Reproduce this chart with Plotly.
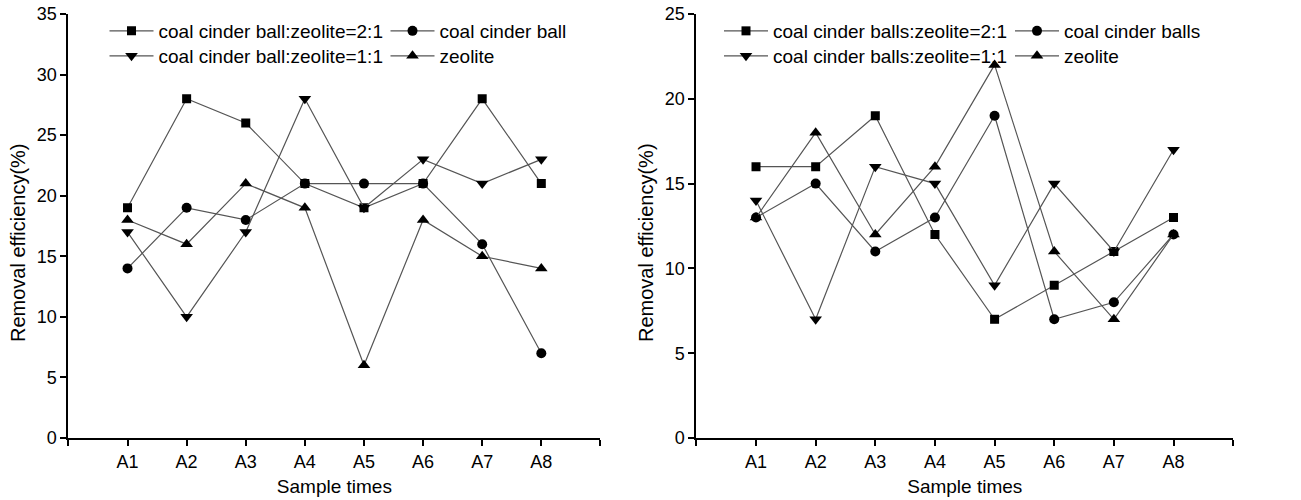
import plotly.graph_objects as go

# ---------------- data ----------------
categories = ["A1", "A2", "A3", "A4", "A5", "A6", "A7", "A8"]

left_names = ["coal cinder ball:zeolite=2:1", "coal cinder ball",
              "coal cinder ball:zeolite=1:1", "zeolite"]
left_ratio_2_1 = [19, 28, 26, 21, 19, 21, 28, 21]
left_cinder = [14, 19, 18, 21, 21, 21, 16, 7]
left_ratio_1_1 = [17, 10, 17, 28, 19, 23, 21, 23]
left_zeolite = [18, 16, 21, 19, 6, 18, 15, 14]

right_names = ["coal cinder balls:zeolite=2:1", "coal cinder balls",
               "coal cinder balls:zeolite=1:1", "zeolite"]
right_ratio_2_1 = [16, 16, 19, 12, 7, 9, 11, 13]
right_cinder = [13, 15, 11, 13, 19, 7, 8, 12]
right_ratio_1_1 = [14, 7, 16, 15, 9, 15, 11, 17]
right_zeolite = [13, 18, 12, 16, 22, 11, 7, 12]

left_yticks = [0, 5, 10, 15, 20, 25, 30, 35]
right_yticks = [0, 5, 10, 15, 20, 25]
x_title = "Sample times"
y_title = "Removal efficiency(%)"

# ---------------- styling ----------------
W, H = 1301, 500
FONT = "Liberation Sans, Arial, sans-serif"
LINE_COLOR = "#555555"
symbols = ["square", "circle", "triangle-down", "triangle-up"]
msizes = [9, 10, 11, 11]

xpos = list(range(len(categories)))
tickvals = [-1] + xpos + [len(categories)]
ticktext = [""] + categories + [""]

fig = go.Figure()

left_series = [left_ratio_2_1, left_cinder, left_ratio_1_1, left_zeolite]
right_series = [right_ratio_2_1, right_cinder, right_ratio_1_1, right_zeolite]
left_legends = ["legend", "legend", "legend2", "legend2"]
right_legends = ["legend3", "legend3", "legend4", "legend4"]

for i, (name, vals) in enumerate(zip(left_names, left_series)):
    fig.add_trace(go.Scatter(
        x=xpos, y=vals, name=name, mode="lines+markers",
        line=dict(color=LINE_COLOR, width=1.2),
        marker=dict(symbol=symbols[i], size=msizes[i], color="black"),
        xaxis="x", yaxis="y", legend=left_legends[i]))

for i, (name, vals) in enumerate(zip(right_names, right_series)):
    fig.add_trace(go.Scatter(
        x=xpos, y=vals, name=name, mode="lines+markers",
        line=dict(color=LINE_COLOR, width=1.2),
        marker=dict(symbol=symbols[i], size=msizes[i], color="black"),
        xaxis="x2", yaxis="y2", legend=right_legends[i]))

def xaxis_cfg(domain, anchor):
    return dict(
        domain=domain, range=[-1, len(categories)], tickmode="array",
        tickvals=tickvals, ticktext=ticktext, showgrid=False, zeroline=False,
        showline=True, linecolor="black", linewidth=2, ticks="outside",
        ticklen=6, tickwidth=2, tickcolor="black",
        tickfont=dict(family=FONT, size=18, color="black"),
        title=dict(text=x_title, font=dict(family=FONT, size=19, color="black"),
                   standoff=9),
        anchor=anchor, automargin=False, fixedrange=True)

def yaxis_cfg(domain, rng, ticks, anchor):
    return dict(
        domain=domain, range=rng, tickmode="array", tickvals=ticks,
        showgrid=False, zeroline=False, showline=True, linecolor="black",
        linewidth=2, ticks="outside", ticklen=6, tickwidth=2, tickcolor="black",
        tickfont=dict(family=FONT, size=18, color="black"),
        anchor=anchor, automargin=False, fixedrange=True)

ydom = [(H - 438) / H, (H - 14) / H]

fig.update_layout(
    width=W, height=H,
    margin=dict(l=0, r=0, t=0, b=0),
    paper_bgcolor="white", plot_bgcolor="white",
    font=dict(family=FONT, size=18, color="black"),
    xaxis=xaxis_cfg([72 / W, 632 / W], "y"),
    yaxis=yaxis_cfg(ydom, [0, 35], left_yticks, "x"),
    xaxis2=xaxis_cfg([733 / W, 1298 / W], "y2"),
    yaxis2=yaxis_cfg(ydom, [0, 25], right_yticks, "x2"),
)

# y-axis titles (rotated), placed beside each axis
for xc in (19, 680):
    fig.add_annotation(
        text=y_title, textangle=-90, showarrow=False,
        xref="paper", yref="paper", x=xc / W, y=(H - 243) / H,
        xanchor="center", yanchor="middle",
        font=dict(family=FONT, size=20, color="black"))

leg_common = dict(orientation="h", xanchor="left", yanchor="top",
                  bgcolor="rgba(0,0,0,0)", borderwidth=0, itemwidth=44,
                  font=dict(family=FONT, size=19, color="black"),
                  tracegroupgap=0, itemclick=False, itemdoubleclick=False)

fig.update_layout(
    legend=dict(leg_common, x=110 / W, y=(H - 12) / H, entrywidth=222),
    legend2=dict(leg_common, x=110 / W, y=(H - 37) / H, entrywidth=222),
    legend3=dict(leg_common, x=757 / W, y=(H - 12) / H, entrywidth=232),
    legend4=dict(leg_common, x=757 / W, y=(H - 37) / H, entrywidth=232),
    showlegend=True,
)

fig.write_html("out.html")
